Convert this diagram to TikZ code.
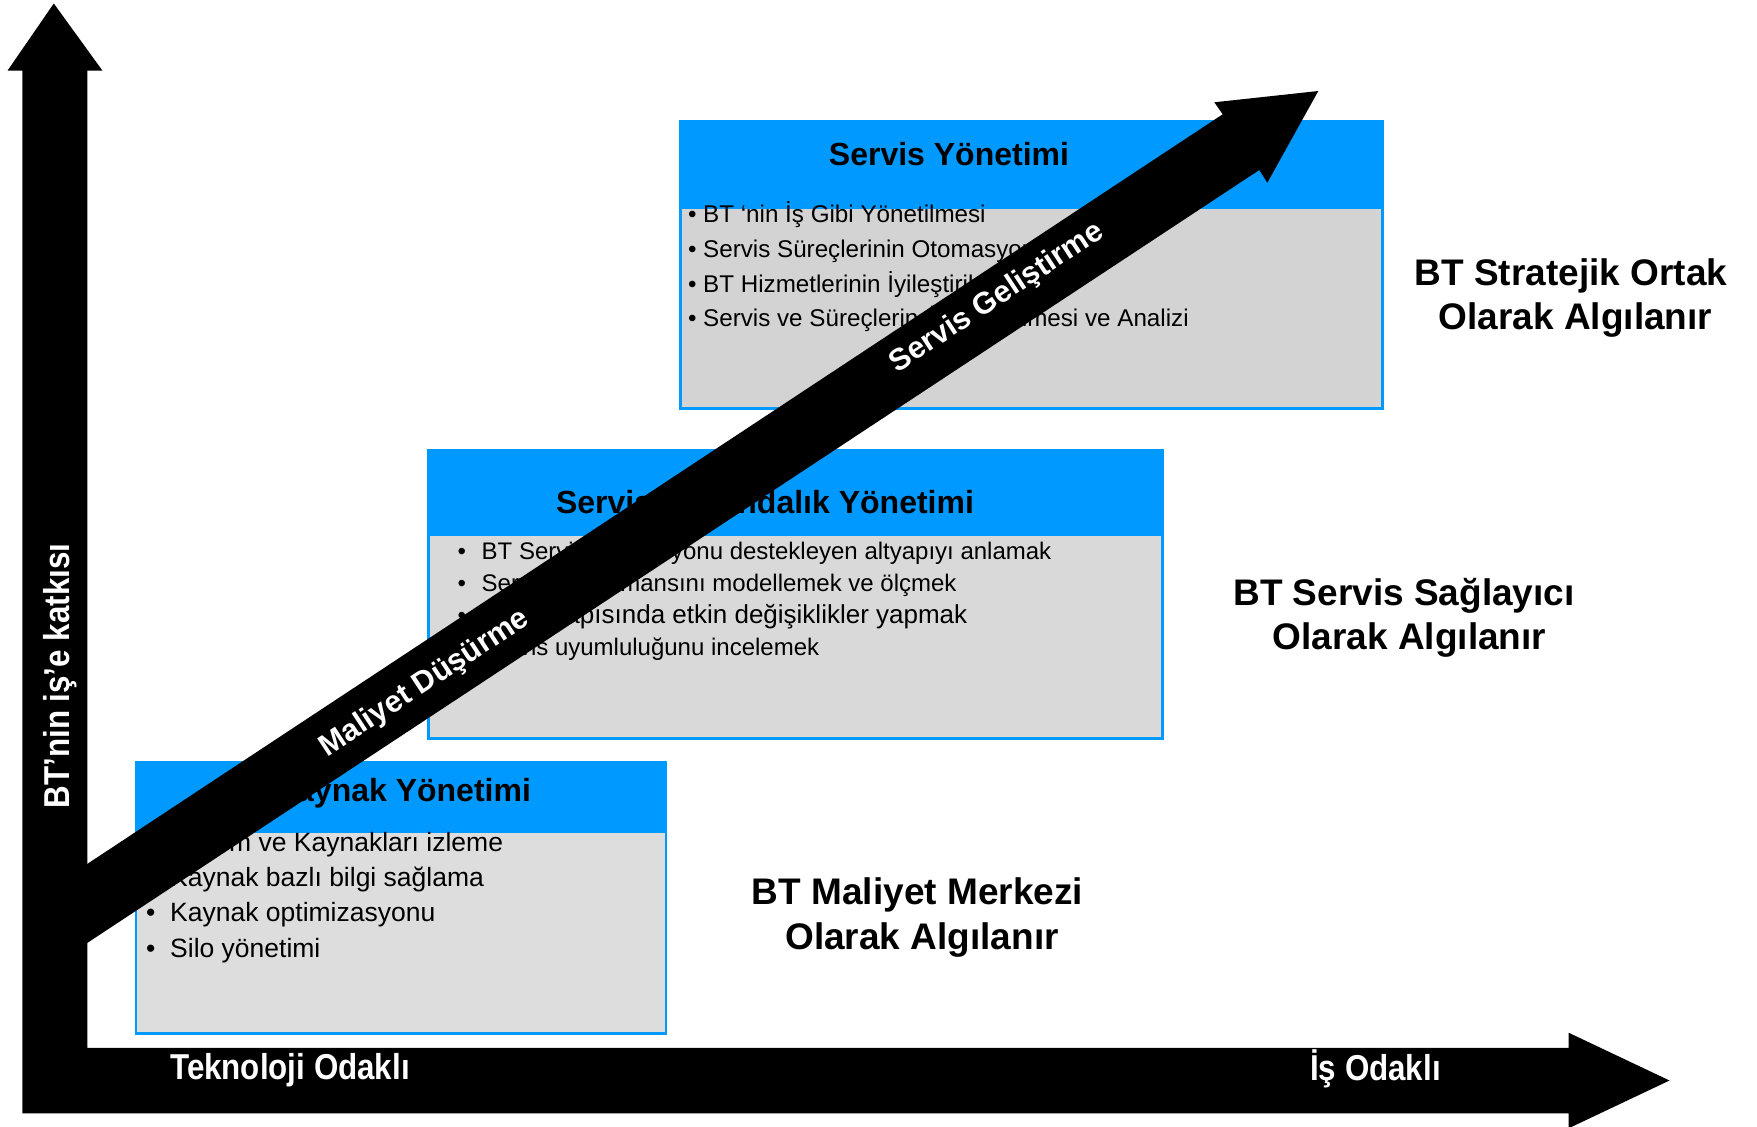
\documentclass[tikz,border=0pt]{standalone}
\usepackage{fontspec}
\setmainfont{Liberation Sans}
\newfontfamily\narrowbf[FakeStretch=0.87]{Liberation Sans}
\definecolor{hdrblue}{RGB}{0,153,255}
\definecolor{grayA}{RGB}{211,211,211}
\definecolor{grayB}{RGB}{217,217,217}
\definecolor{grayC}{RGB}{221,221,221}
\tikzset{
 hdr/.style={rectangle, fill=hdrblue, draw=hdrblue, line width=2pt, inner sep=0pt, anchor=north west},
 body/.style={rectangle, draw=hdrblue, line width=2.5pt, inner sep=0pt, anchor=north west},
 ttl/.style={font=\bfseries\fontsize{32}{38}\selectfont, anchor=base, inner sep=0pt},
 bl/.style={anchor=base west, inner sep=0pt},
 lbl/.style={font=\bfseries\fontsize{37}{44}\selectfont, anchor=base, inner sep=0pt},
 axtxt/.style={font=\narrowbf\bfseries\fontsize{36}{43}\selectfont, text=white, inner sep=0pt},
 diag/.style={font=\bfseries\fontsize{30.5}{36}\selectfont, text=white, inner sep=0pt, text height=21.8pt, text depth=0pt, anchor=center, rotate=33.4},
}
\begin{document}
\begin{tikzpicture}[x=1pt,y=-1pt]
\useasboundingbox (0,0) rectangle (1757,1127);
\fill[white] (0,0) rectangle (1757,1127);

% boxes
\node[body, fill=grayA, minimum width=702pt, minimum height=287pt] (svbody) at (679,120) {};
\node[hdr, minimum width=702pt, minimum height=87pt] (svhdr) at (679,120) {};
\node[body, fill=grayB, minimum width=734pt, minimum height=288pt] (fkbody) at (427,449) {};
\node[hdr, minimum width=734pt, minimum height=85pt] (fkhdr) at (427,449) {};
\node[body, fill=grayC, minimum width=530pt, minimum height=271.5pt] (kybody) at (134.5,760.5) {};
\node[hdr, minimum width=530pt, minimum height=70pt] (kyhdr) at (134.5,760.5) {};

% titles
\node[ttl] (svttl) at (949,165.5) {Servis Yönetimi};
\node[ttl] (fkttl) at (765,513.5) {Servis Farkındalık Yönetimi};
\node[ttl] (kyttl) at (402,801.5) {Kaynak Yönetimi};

% bullets top
\foreach \t/\yy [count=\i] in {BT ‘nin İş Gibi Yönetilmesi/222.6, Servis Süreçlerinin Otomasyonu/257.3, BT Hizmetlerinin İyileştirilmesi/292, Servis ve Süreçlerin Ölçümlenmesi ve Analizi/326.6}{
  \node[bl, font=\fontsize{24.2}{28}\selectfont] (svd\i) at (688,\yy) {•};
  \node[bl, font=\fontsize{24.2}{28}\selectfont] (svt\i) at (703,\yy) {\t};
}
% bullets middle
\foreach \t/\yy/\fs [count=\i] in {BT Servis Operasyonu destekleyen altyapıyı anlamak/559.6/24, Servis Performansını modellemek ve ölçmek/591.6/24, BT Altyapısında etkin değişiklikler yapmak/623.6/26, Servis uyumluluğunu incelemek/655.6/24}{
  \node[bl, font=\fontsize{24}{28}\selectfont] (fkd\i) at (457.4,\yy) {•};
  \node[bl, font=\fontsize{\fs}{28}\selectfont] (fkt\i) at (481.5,\yy) {\t};
}
% bullets bottom
\foreach \t/\yy [count=\i] in {Sistem ve Kaynakları izleme/851, Kaynak bazlı bilgi sağlama/886.4, Kaynak optimizasyonu/921.4, Silo yönetimi/957.4}{
  \node[bl, font=\fontsize{26.5}{30}\selectfont] (kyd\i) at (145.9,\yy) {•};
  \node[bl, font=\fontsize{26.5}{30}\selectfont] (kyt\i) at (170,\yy) {\t};
}

% side labels
\node[lbl] (st1) at (1571,285) {BT Stratejik Ortak};
\node[lbl] (st2) at (1575.5,329.5) {Olarak Algılanır};
\node[lbl] (sp1) at (1404,605.5) {BT Servis Sağlayıcı};
\node[lbl] (sp2) at (1409.5,649.5) {Olarak Algılanır};
\node[lbl] (mm1) at (917.5,904.5) {BT Maliyet Merkezi};
\node[lbl] (mm2) at (922,949) {Olarak Algılanır};

% axes
\fill[black] (22.4,1113.3) -- (22.4,70.7) -- (7.5,70.7) -- (53.8,3.5) -- (102.5,70.7) -- (87.3,70.7)
  -- (87.3,1047.8) -- (1568.6,1047.8) -- (1568.6,1032.7) -- (1669.5,1080.5) -- (1568.6,1128.3)
  -- (1568.6,1113.3) -- cycle;

% diagonal arrow
\fill[black] (60,881.9) -- (86.7,864.3) -- (1222.7,114.3) -- (1214.3,102.3) -- (1318.3,91)
  -- (1267.3,182.7) -- (1259.3,170) -- (86.7,943.3) -- (60,960.9) -- cycle;

% axis texts
\node[axtxt, rotate=90, anchor=base] (ytxt) at (69,676) {BT’nin iş’e katkısı};
\node[axtxt, anchor=base west] (xtxt1) at (170,1079.5) {Teknoloji Odaklı};
\node[axtxt, anchor=base west] (xtxt2) at (1310,1080) {İş Odaklı};

% diagonal texts
\node[diag] (maltxt) at (423.3,681) {Maliyet Düşürme};
\node[diag] (gelytxt) at (995.4,295.5) {Servis Geliştirme};
\end{tikzpicture}
\end{document}
